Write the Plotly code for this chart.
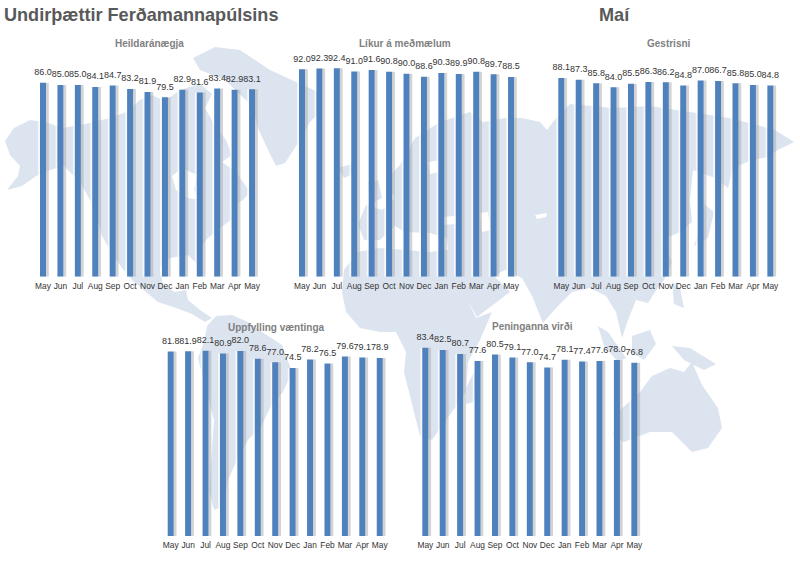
import plotly.graph_objects as go

months = ["May", "Jun", "Jul", "Aug", "Sep", "Oct", "Nov", "Dec", "Jan", "Feb", "Mar", "Apr", "May"]

heild = [86.0, 85.0, 85.0, 84.1, 84.7, 83.2, 81.9, 79.5, 82.9, 81.6, 83.4, 82.9, 83.1]
likur = [92.0, 92.3, 92.4, 91.0, 91.6, 90.8, 90.0, 88.6, 90.3, 89.9, 90.8, 89.7, 88.5]
gestrisni = [88.1, 87.3, 85.8, 84.0, 85.5, 86.3, 86.2, 84.8, 87.0, 86.7, 85.8, 85.0, 84.8]
uppfylling = [81.8, 81.9, 82.1, 80.9, 82.0, 78.6, 77.0, 74.5, 78.2, 76.5, 79.6, 79.1, 78.9]
peninganna = [83.4, 82.5, 80.7, 77.6, 80.5, 79.1, 77.0, 74.7, 78.1, 77.4, 77.6, 78.0, 76.8]

names = ["Heildaránægja", "Líkur á meðmælum", "Gestrisni", "Uppfylling væntinga", "Peninganna virði"]
series = [heild, likur, gestrisni, uppfylling, peninganna]

W, H = 800, 561

# left edge of each panel and its baseline, in pixels
panel_x = [34.3, 293.3, 552.6, 162.0, 416.6]
panel_base = [276.7, 276.7, 276.7, 536.0, 536.0]
panel_title = [(149, 44), (405, 44), (669, 44), (276, 327), (532, 326)]
step = 17.42
px_per_unit = 2.256

# background world map, rough outlines
north_america = [(5, 141), (14, 128), (30, 120), (46, 122), (62, 128), (85, 124), (110, 118), (126, 112), (140, 100),
                 (152, 95), (165, 101), (180, 90), (200, 84), (212, 94), (205, 108), (214, 124), (226, 140), (232, 155),
                 (222, 162), (236, 172), (250, 192), (243, 200), (231, 207), (232, 219), (215, 232), (206, 240),
                 (198, 252), (200, 268), (195, 262), (188, 255), (170, 258), (160, 268), (163, 285), (175, 292),
                 (186, 290), (188, 300), (200, 310), (212, 318), (205, 322), (192, 314), (176, 308), (158, 302),
                 (146, 292), (132, 280), (122, 268), (110, 250), (102, 236), (96, 215), (90, 200), (80, 182), (64, 166),
                 (50, 170), (36, 176), (22, 186), (7, 190), (18, 176), (20, 166), (10, 155)]
hudson_bay = [(172, 176), (182, 168), (197, 175), (194, 190), (200, 200), (188, 198), (176, 190)]
greenland = [(193, 58), (215, 47), (240, 50), (270, 70), (318, 92), (322, 110), (310, 122), (300, 140), (285, 163),
             (276, 166), (268, 150), (258, 128), (252, 106), (225, 80), (200, 70)]
south_america = [(207, 326), (216, 316), (232, 315), (248, 322), (262, 332), (282, 345), (292, 372), (283, 392),
                 (270, 408), (262, 425), (248, 440), (238, 458), (228, 480), (224, 506), (214, 510), (209, 490),
                 (212, 450), (214, 420), (204, 382), (198, 358), (204, 342)]
eurasia = [(358, 224), (366, 205), (382, 210), (395, 198), (385, 180), (400, 165), (415, 138), (440, 122), (470, 112),
           (483, 122), (505, 118), (522, 118), (540, 122), (547, 130), (556, 118), (570, 104), (613, 108), (650, 106),
           (690, 112), (730, 118), (775, 130),
           (794, 142), (778, 150), (768, 157), (752, 160), (733, 168), (728, 188), (715, 178), (693, 170), (690, 200),
           (692, 222), (680, 232), (662, 240), (672, 262), (664, 280), (655, 292), (648, 303), (636, 300), (628, 320),
           (622, 338), (616, 312), (606, 296), (590, 288), (572, 292), (556, 308), (543, 323), (532, 296), (522, 278),
           (505, 270), (494, 276), (510, 292), (477, 317), (462, 290), (453, 272), (448, 250), (447, 238), (430, 233),
           (405, 232), (395, 226), (380, 240), (364, 240)]
baltic = [(428, 162), (440, 160), (441, 172), (430, 174)]
caspian = [(480, 213), (488, 212), (490, 230), (482, 232)]
black_sea = [(440, 217), (456, 216), (456, 224), (442, 225)]
aral = [(535, 215), (547, 213), (546, 217), (537, 219)]
africa = [(357, 252), (380, 248), (405, 250), (430, 252), (448, 250), (460, 284), (476, 318), (492, 312), (480, 340),
          (468, 362), (466, 392), (448, 418), (432, 440), (420, 436), (412, 405), (404, 372), (406, 352), (396, 332),
          (380, 332), (360, 328), (346, 312), (342, 292), (344, 270)]
madagascar = [(474, 372), (480, 372), (474, 402), (466, 404), (466, 388)]
australia = [(618, 412), (640, 392), (652, 376), (670, 368), (684, 372), (692, 362), (702, 385), (718, 408), (722, 428),
             (708, 448), (692, 452), (672, 432), (650, 432), (624, 442), (612, 436)]
iceland = [(338, 168), (352, 164), (358, 172), (344, 178)]
britain = [(368, 182), (378, 180), (382, 198), (370, 204)]
japan = [(704, 204), (714, 212), (708, 238), (694, 246), (698, 234)]
philippines = [(672, 282), (680, 288), (684, 308), (674, 304)]
borneo = [(632, 336), (650, 330), (656, 344), (644, 360), (632, 352)]
sumatra = [(598, 326), (608, 332), (626, 358), (618, 362), (604, 346)]
new_guinea = [(672, 346), (690, 348), (716, 364), (704, 370), (684, 360)]

map_land = [north_america, greenland, south_america, eurasia, africa, madagascar, australia, iceland, britain,
            japan, philippines, borneo, sumatra, new_guinea]
map_holes = [hudson_bay, baltic, caspian, black_sea, aral]


def outline(polys):
    xs, ys = [], []
    for poly in polys:
        xs += [p[0] for p in poly] + [poly[0][0], None]
        ys += [p[1] for p in poly] + [poly[0][1], None]
    return xs, ys


fig = go.Figure()

# map goes on the first axes so it stays behind the panels
for polys, col in [(map_land, "#dce4f0"), (map_holes, "#ffffff")]:
    xs, ys = outline(polys)
    fig.add_trace(go.Scatter(x=xs, y=ys, mode="lines", fill="toself", fillcolor=col, line=dict(width=0),
                             hoverinfo="skip", showlegend=False, xaxis="x", yaxis="y"))

layout = dict(
    width=W, height=H,
    margin=dict(l=0, r=0, t=0, b=0),
    paper_bgcolor="white", plot_bgcolor="rgba(0,0,0,0)",
    barmode="overlay", showlegend=False, hovermode=False,
    font=dict(family="Liberation Sans, Arial, sans-serif"),
    xaxis=dict(domain=[0, 1], range=[0, W], visible=False),
    yaxis=dict(domain=[0, 1], range=[H, 0], visible=False),
)

annots = [
    dict(text="<b>Undirþættir Ferðamannapúlsins</b>", x=2 / W, y=1 - 15 / H, xanchor="left",
         font=dict(size=18.1, color="#595959")),
    dict(text="<b>Maí</b>", x=614 / W, y=1 - 15 / H, xanchor="center", font=dict(size=18.1, color="#595959")),
]

idx = list(range(len(months)))
for i, vals in enumerate(series):
    n = i + 2
    xa, ya = "x%d" % n, "y%d" % n
    # white glow on the left, soft grey shadow on the right, blue bar on top
    fig.add_trace(go.Bar(x=idx, y=vals, width=0.11, offset=-0.28, marker=dict(color="rgba(255,255,255,0.75)", line_width=0),
                         hoverinfo="skip", xaxis=xa, yaxis=ya))
    fig.add_trace(go.Bar(x=idx, y=vals, width=0.16, offset=0.172, marker=dict(color="rgba(175,175,175,0.55)", line_width=0),
                         hoverinfo="skip", xaxis=xa, yaxis=ya))
    fig.add_trace(go.Bar(x=idx, y=vals, width=0.344, offset=-0.172, marker=dict(color="#4f81bd", line_width=0),
                         hoverinfo="skip", xaxis=xa, yaxis=ya))
    # value labels sit a bit higher than bar text would, so they go on hidden markers
    fig.add_trace(go.Scatter(x=idx, y=vals, mode="markers+text", marker=dict(size=7, opacity=0),
                             text=["%.1f" % v for v in vals], textposition="top center", cliponaxis=False,
                             textfont=dict(size=9, color="#333333"), xaxis=xa, yaxis=ya))

    left = panel_x[i]
    base = panel_base[i]
    layout["xaxis%d" % n] = dict(domain=[left / W, (left + step * 13) / W], range=[-0.5, 12.5], anchor=ya,
                                 tickmode="array", tickvals=idx, ticktext=months, ticklen=0, showgrid=False,
                                 zeroline=False, showline=False, tickangle=0, ticklabelstandoff=3,
                                 tickfont=dict(size=8.4, color="#333333"))
    layout["yaxis%d" % n] = dict(domain=[1 - base / H, 1 - (base - 100 * px_per_unit) / H], range=[0, 100], anchor=xa,
                                 visible=False, showgrid=False, zeroline=False)
    annots.append(dict(text="<b>%s</b>" % names[i], x=panel_title[i][0] / W, y=1 - panel_title[i][1] / H,
                       xanchor="center", font=dict(size=10, color="#7f7f7f")))

for a in annots:
    a.update(xref="paper", yref="paper", yanchor="middle", showarrow=False)
layout["annotations"] = annots

fig.update_layout(**layout)
fig.write_html("out.html", config=dict(displayModeBar=False), post_script="document.body.style.margin='0';")
